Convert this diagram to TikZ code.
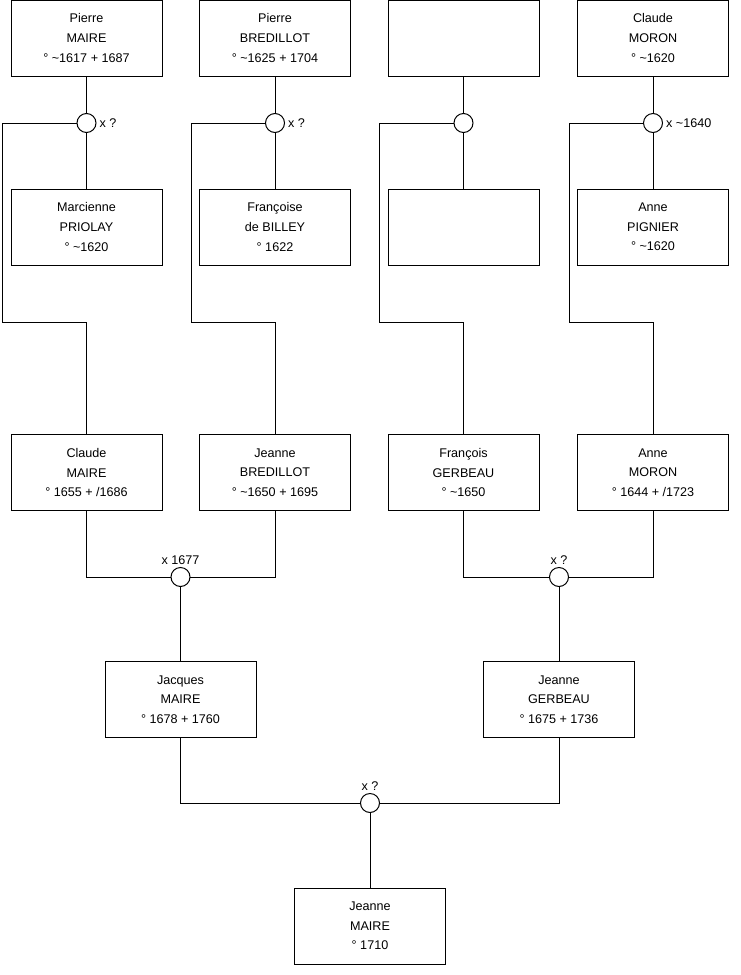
\documentclass[tikz,border=0pt]{standalone}
\usepackage{fontspec}
\setmainfont{Liberation Sans}
\tikzset{
  personne/.style={draw, line width=1pt, minimum width=151pt, minimum height=76pt,
    align=center, inner sep=2pt, font=\fontsize{12.6}{19.6}\selectfont},
  mariage/.style={draw, circle, line width=1pt, fill=white, minimum size=19pt, inner sep=0pt},
  lien/.style={line width=1pt},
  date/.style={font=\fontsize{12.6}{14}\selectfont, inner sep=1pt}
}
\begin{document}
\begin{tikzpicture}[x=1pt,y=-1pt]
\useasboundingbox (0,0) rectangle (740,975);
\node[personne] (pmaire) at (86.5,38) {Pierre\\MAIRE\\° \textasciitilde1617 + 1687};
\node[personne] (pbredillot) at (275,38) {Pierre\\BREDILLOT\\° \textasciitilde1625 + 1704};
\node[personne] (inconnu1) at (463.5,38) {};
\node[personne] (cmoron) at (653,38) {Claude\\MORON\\° \textasciitilde1620};
\node[personne] (mpriolay) at (86.5,227) {Marcienne\\PRIOLAY\\° \textasciitilde1620};
\node[personne] (fbilley) at (275,227) {Françoise\\de BILLEY\\° 1622};
\node[personne] (inconnu2) at (463.5,227) {};
\node[personne] (apignier) at (653,227) {Anne\\PIGNIER\\° \textasciitilde1620};
\node[personne] (cmaire) at (86.5,472.5) {Claude\\MAIRE\\° 1655 + /1686};
\node[personne] (jbredillot) at (275,472.5) {Jeanne\\BREDILLOT\\° \textasciitilde1650 + 1695};
\node[personne] (fgerbeau) at (463.5,472.5) {François\\GERBEAU\\° \textasciitilde1650};
\node[personne] (amoron) at (653,472.5) {Anne\\MORON\\° 1644 + /1723};
\node[personne] (jmaire) at (180.5,699.5) {Jacques\\MAIRE\\° 1678 + 1760};
\node[personne] (jgerbeau) at (559,699.5) {Jeanne\\GERBEAU\\° 1675 + 1736};
\node[personne] (jeanne) at (370,926) {Jeanne\\MAIRE\\° 1710};
\coordinate (r1) at (2.5,322);
\coordinate (r2) at (191,322);
\coordinate (r3) at (379.5,322);
\coordinate (r4) at (569,322);
\draw[lien] (pmaire) -- (mpriolay);
\draw[lien] (pbredillot) -- (fbilley);
\draw[lien] (inconnu1) -- (inconnu2);
\draw[lien] (cmoron) -- (apignier);
\draw[lien] (cmaire) |- (jmaire |- 0,577) -- (jmaire);
\draw[lien] (jbredillot) |- (jmaire |- 0,577);
\draw[lien] (fgerbeau) |- (jgerbeau |- 0,577) -- (jgerbeau);
\draw[lien] (amoron) |- (jgerbeau |- 0,577);
\draw[lien] (jmaire) |- (jeanne |- 0,803) -- (jeanne);
\draw[lien] (jgerbeau) |- (jeanne |- 0,803);
\node[mariage, label={[date, label distance=2pt]right:x ?}] (m1) at (86.5,123) {};
\node[mariage, label={[date, label distance=2pt]right:x ?}] (m2) at (275,123) {};
\node[mariage] (m3) at (463.5,123) {};
\node[mariage, label={[date, label distance=2pt]right:x \textasciitilde1640}] (m4) at (653,123) {};
\node[mariage, label={[date, label distance=1pt]above:x 1677}] (m5) at (180.5,577) {};
\node[mariage, label={[date, label distance=1pt]above:x ?}] (m6) at (559,577) {};
\node[mariage, label={[date, label distance=1pt]above:x ?}] (m7) at (370,803) {};
\draw[lien] (m1) -| (r1) -| (cmaire);
\draw[lien] (m2) -| (r2) -| (jbredillot);
\draw[lien] (m3) -| (r3) -| (fgerbeau);
\draw[lien] (m4) -| (r4) -| (amoron);
\end{tikzpicture}
\end{document}
